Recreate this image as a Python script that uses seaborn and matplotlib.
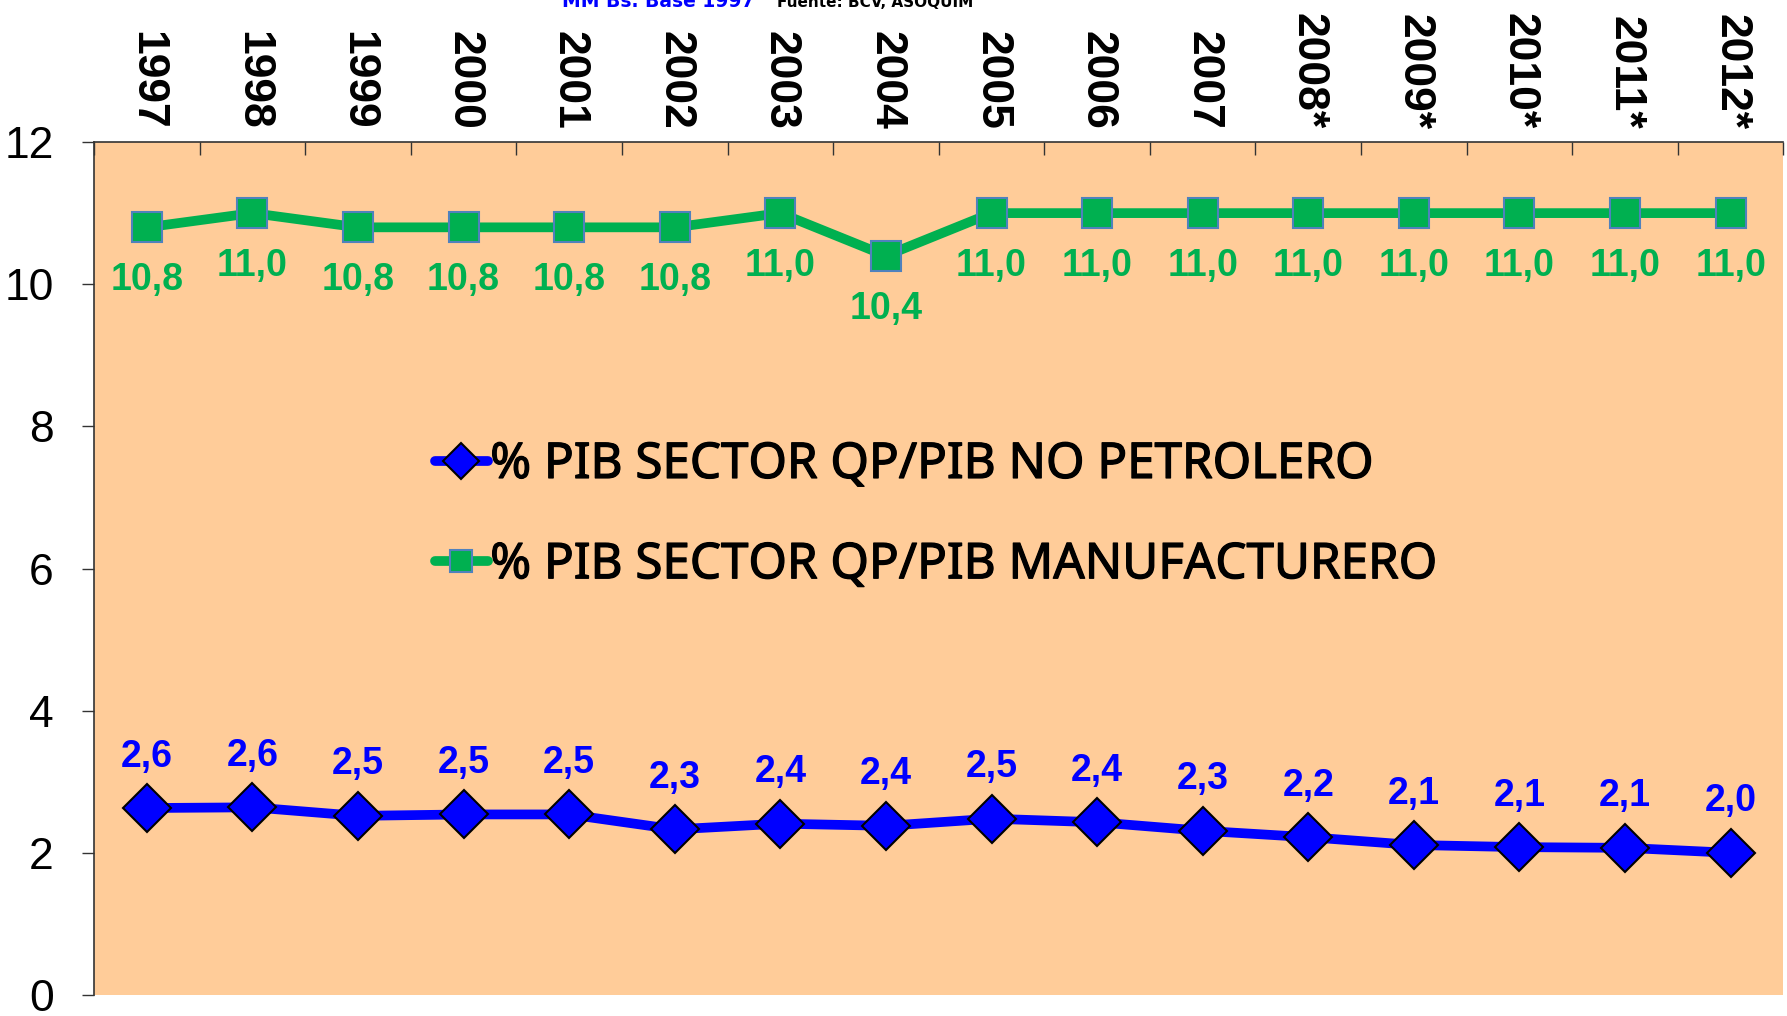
import numpy as np
import pandas as pd
import matplotlib
matplotlib.use('Agg')
import matplotlib.pyplot as plt
import matplotlib.patheffects as pe
import seaborn as sns

# data
years = ['1997', '1998', '1999', '2000', '2001', '2002', '2003', '2004',
         '2005', '2006', '2007', '2008*', '2009*', '2010*', '2011*', '2012*']
pib_no_petrolero = [2.63, 2.64, 2.52, 2.54, 2.54, 2.33, 2.41, 2.38,
                    2.48, 2.43, 2.31, 2.22, 2.11, 2.08, 2.07, 2.00]
pib_manufacturero = [10.8, 11.0, 10.8, 10.8, 10.8, 10.8, 11.0, 10.4,
                     11.0, 11.0, 11.0, 11.0, 11.0, 11.0, 11.0, 11.0]
serie_1 = '% PIB SECTOR QP/PIB NO PETROLERO'
serie_2 = '% PIB SECTOR QP/PIB MANUFACTURERO'

df = pd.DataFrame({'year': years, 'no_pet': pib_no_petrolero, 'manuf': pib_manufacturero})
df['pos'] = np.arange(len(years))

sns.set_style('white')
plt.rcParams['font.family'] = ['Liberation Sans', 'DejaVu Sans']
plt.rcParams['text.color'] = 'black'
plt.rcParams['xtick.color'] = 'black'
plt.rcParams['ytick.color'] = 'black'

fig = plt.figure(figsize=(17.87, 10.16), dpi=100)
ax = fig.add_axes([0.0526, 0.0207, 0.9454, 0.8395])
ax.set_facecolor('#FFCC99')

sns.lineplot(data=df, x='pos', y='no_pet', ax=ax, color='#0000FF', linewidth=7,
             marker='D', markersize=24, markerfacecolor='#0000FF',
             markeredgecolor='black', markeredgewidth=1.5, label=serie_1)
sns.lineplot(data=df, x='pos', y='manuf', ax=ax, color='#00B050', linewidth=7,
             marker='s', markersize=21, markerfacecolor='#00B050',
             markeredgecolor='#4F81BD', markeredgewidth=1.5, label=serie_2)

# etiquetas de datos
for x, v in zip(df['pos'], pib_no_petrolero):
    ax.annotate(f'{v:.1f}'.replace('.', ','), (x, v), xytext=(0, 37), textcoords='offset points',
                ha='center', va='center', fontsize=27, fontweight='bold', color='#0000FF')
for x, v in zip(df['pos'], pib_manufacturero):
    ax.annotate(f'{v:.1f}'.replace('.', ','), (x, v), xytext=(0, -38), textcoords='offset points',
                ha='center', va='center', fontsize=27, fontweight='bold', color='#00B050')

ax.set_xlim(-0.5, len(years) - 0.5)
ax.set_ylim(0, 12)
ax.set_yticks(range(0, 13, 2))
ax.tick_params(axis='y', which='major', direction='out', length=9, width=1,
               labelsize=32, pad=20, left=True, color='#333333')

ax.set_xticks(df['pos'])
ax.set_xticklabels(years, rotation=270, fontsize=32, fontweight='bold')
ax.set_xticks(np.arange(-0.5, len(years), 1), minor=True)
ax.xaxis.tick_top()
ax.tick_params(axis='x', which='major', length=0, pad=9, labeltop=True, labelbottom=False)
ax.tick_params(axis='x', which='minor', direction='in', length=9, width=1, top=True, bottom=False,
               color='#333333')
ax.set_xlabel('')
ax.set_ylabel('')

for side in ['right', 'bottom']:
    ax.spines[side].set_visible(False)
for side in ['left', 'top']:
    ax.spines[side].set_color('#333333')
    ax.spines[side].set_linewidth(1.2)

leg = ax.legend(loc='center left', bbox_to_anchor=(0.2434, 0.493), bbox_transform=fig.transFigure,
                frameon=False, handlelength=1.07, handletextpad=0.05, labelspacing=1.02,
                borderpad=0, borderaxespad=0, markerscale=0.75,
                prop={'family': 'Noto Sans', 'size': 35.5})
for t in leg.get_texts():
    t.set_color('black')
    t.set_path_effects([pe.withStroke(linewidth=0.9, foreground='black')])

# titulo cortado arriba
fig.text(562 / 1787, 0.9931, 'MM Bs. Base 1997', color='#0000FF', fontsize=13.5,
         fontweight='bold', ha='left', va='baseline', family='DejaVu Sans')
fig.text(777 / 1787, 0.9931, 'Fuente: BCV, ASOQUIM', color='black', fontsize=11,
         fontweight='bold', ha='left', va='baseline', family='DejaVu Sans')

fig.savefig('out.png', dpi=100)
